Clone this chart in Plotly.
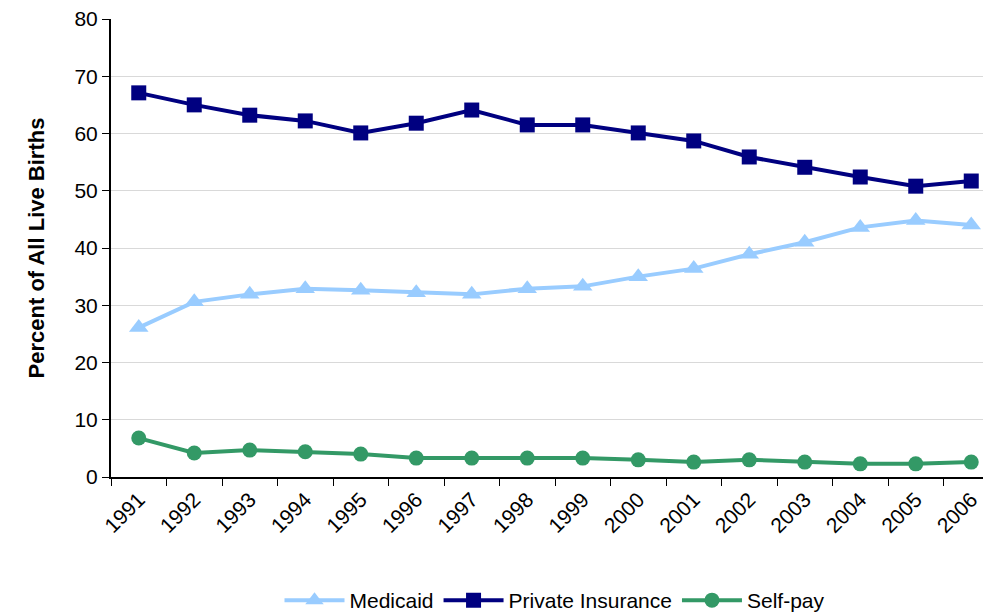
import plotly.graph_objects as go

years = [str(y) for y in range(1991, 2007)]
medicaid = [26.1, 30.6, 31.9, 32.9, 32.6, 32.2, 31.9, 32.9, 33.3, 35.0, 36.4, 38.9, 41.0, 43.6, 44.8, 44.0]
private_insurance = [67.1, 65.0, 63.2, 62.2, 60.1, 61.8, 64.1, 61.5, 61.5, 60.1, 58.7, 55.9, 54.1, 52.4, 50.8, 51.7]
self_pay = [6.8, 4.2, 4.7, 4.4, 4.0, 3.3, 3.3, 3.3, 3.3, 3.0, 2.6, 3.0, 2.6, 2.3, 2.3, 2.6]

FONT = "Liberation Sans, Arial, sans-serif"

fig = go.Figure()
series = [
    ("Medicaid", medicaid, "#99CCFF", "triangle-up", 17),
    ("Private Insurance", private_insurance, "#000080", "square", 15),
    ("Self-pay", self_pay, "#339966", "circle", 15),
]
for name, values, color, symbol, size in series:
    fig.add_trace(go.Scatter(
        x=years, y=values, name=name, mode="lines+markers",
        line=dict(color=color, width=4),
        marker=dict(symbol=symbol, size=size, color=color),
    ))

# page body adds an 8px offset, so margins are trimmed to land the plot area
fig.update_layout(
    width=991, height=613,
    margin=dict(l=103, r=0, t=11, b=137),
    paper_bgcolor="white", plot_bgcolor="white",
    font=dict(family=FONT, size=21, color="black"),
    legend=dict(orientation="h", x=0.5, xanchor="center", y=-0.27, yanchor="middle",
                font=dict(size=21), tracegroupgap=0, itemwidth=60),
    shapes=[dict(type="line", xref="paper", yref="paper", x0=1, x1=1, y0=0, y1=1,
                 line=dict(color="#808080", width=1.5))],
)
fig.update_xaxes(
    type="category", range=[-0.5, 15.5], tickson="boundaries", automargin=False,
    ticks="outside", ticklen=7, tickcolor="black", tickangle=-45,
    showline=True, linecolor="black", linewidth=2, showgrid=False,
    tickfont=dict(size=21), ticklabeloverflow="allow",
)
fig.update_yaxes(
    range=[0, 80], dtick=10, ticks="outside", ticklen=7, tickcolor="black", automargin=False,
    showline=True, linecolor="black", linewidth=2, ticklabeloverflow="allow",
    gridcolor="#D9D9D9", gridwidth=1, zeroline=False,
    title=dict(text="<b>Percent of All Live Births</b>", font=dict(size=22), standoff=24),
    tickfont=dict(size=21),
)

fig.write_html("out.html")
